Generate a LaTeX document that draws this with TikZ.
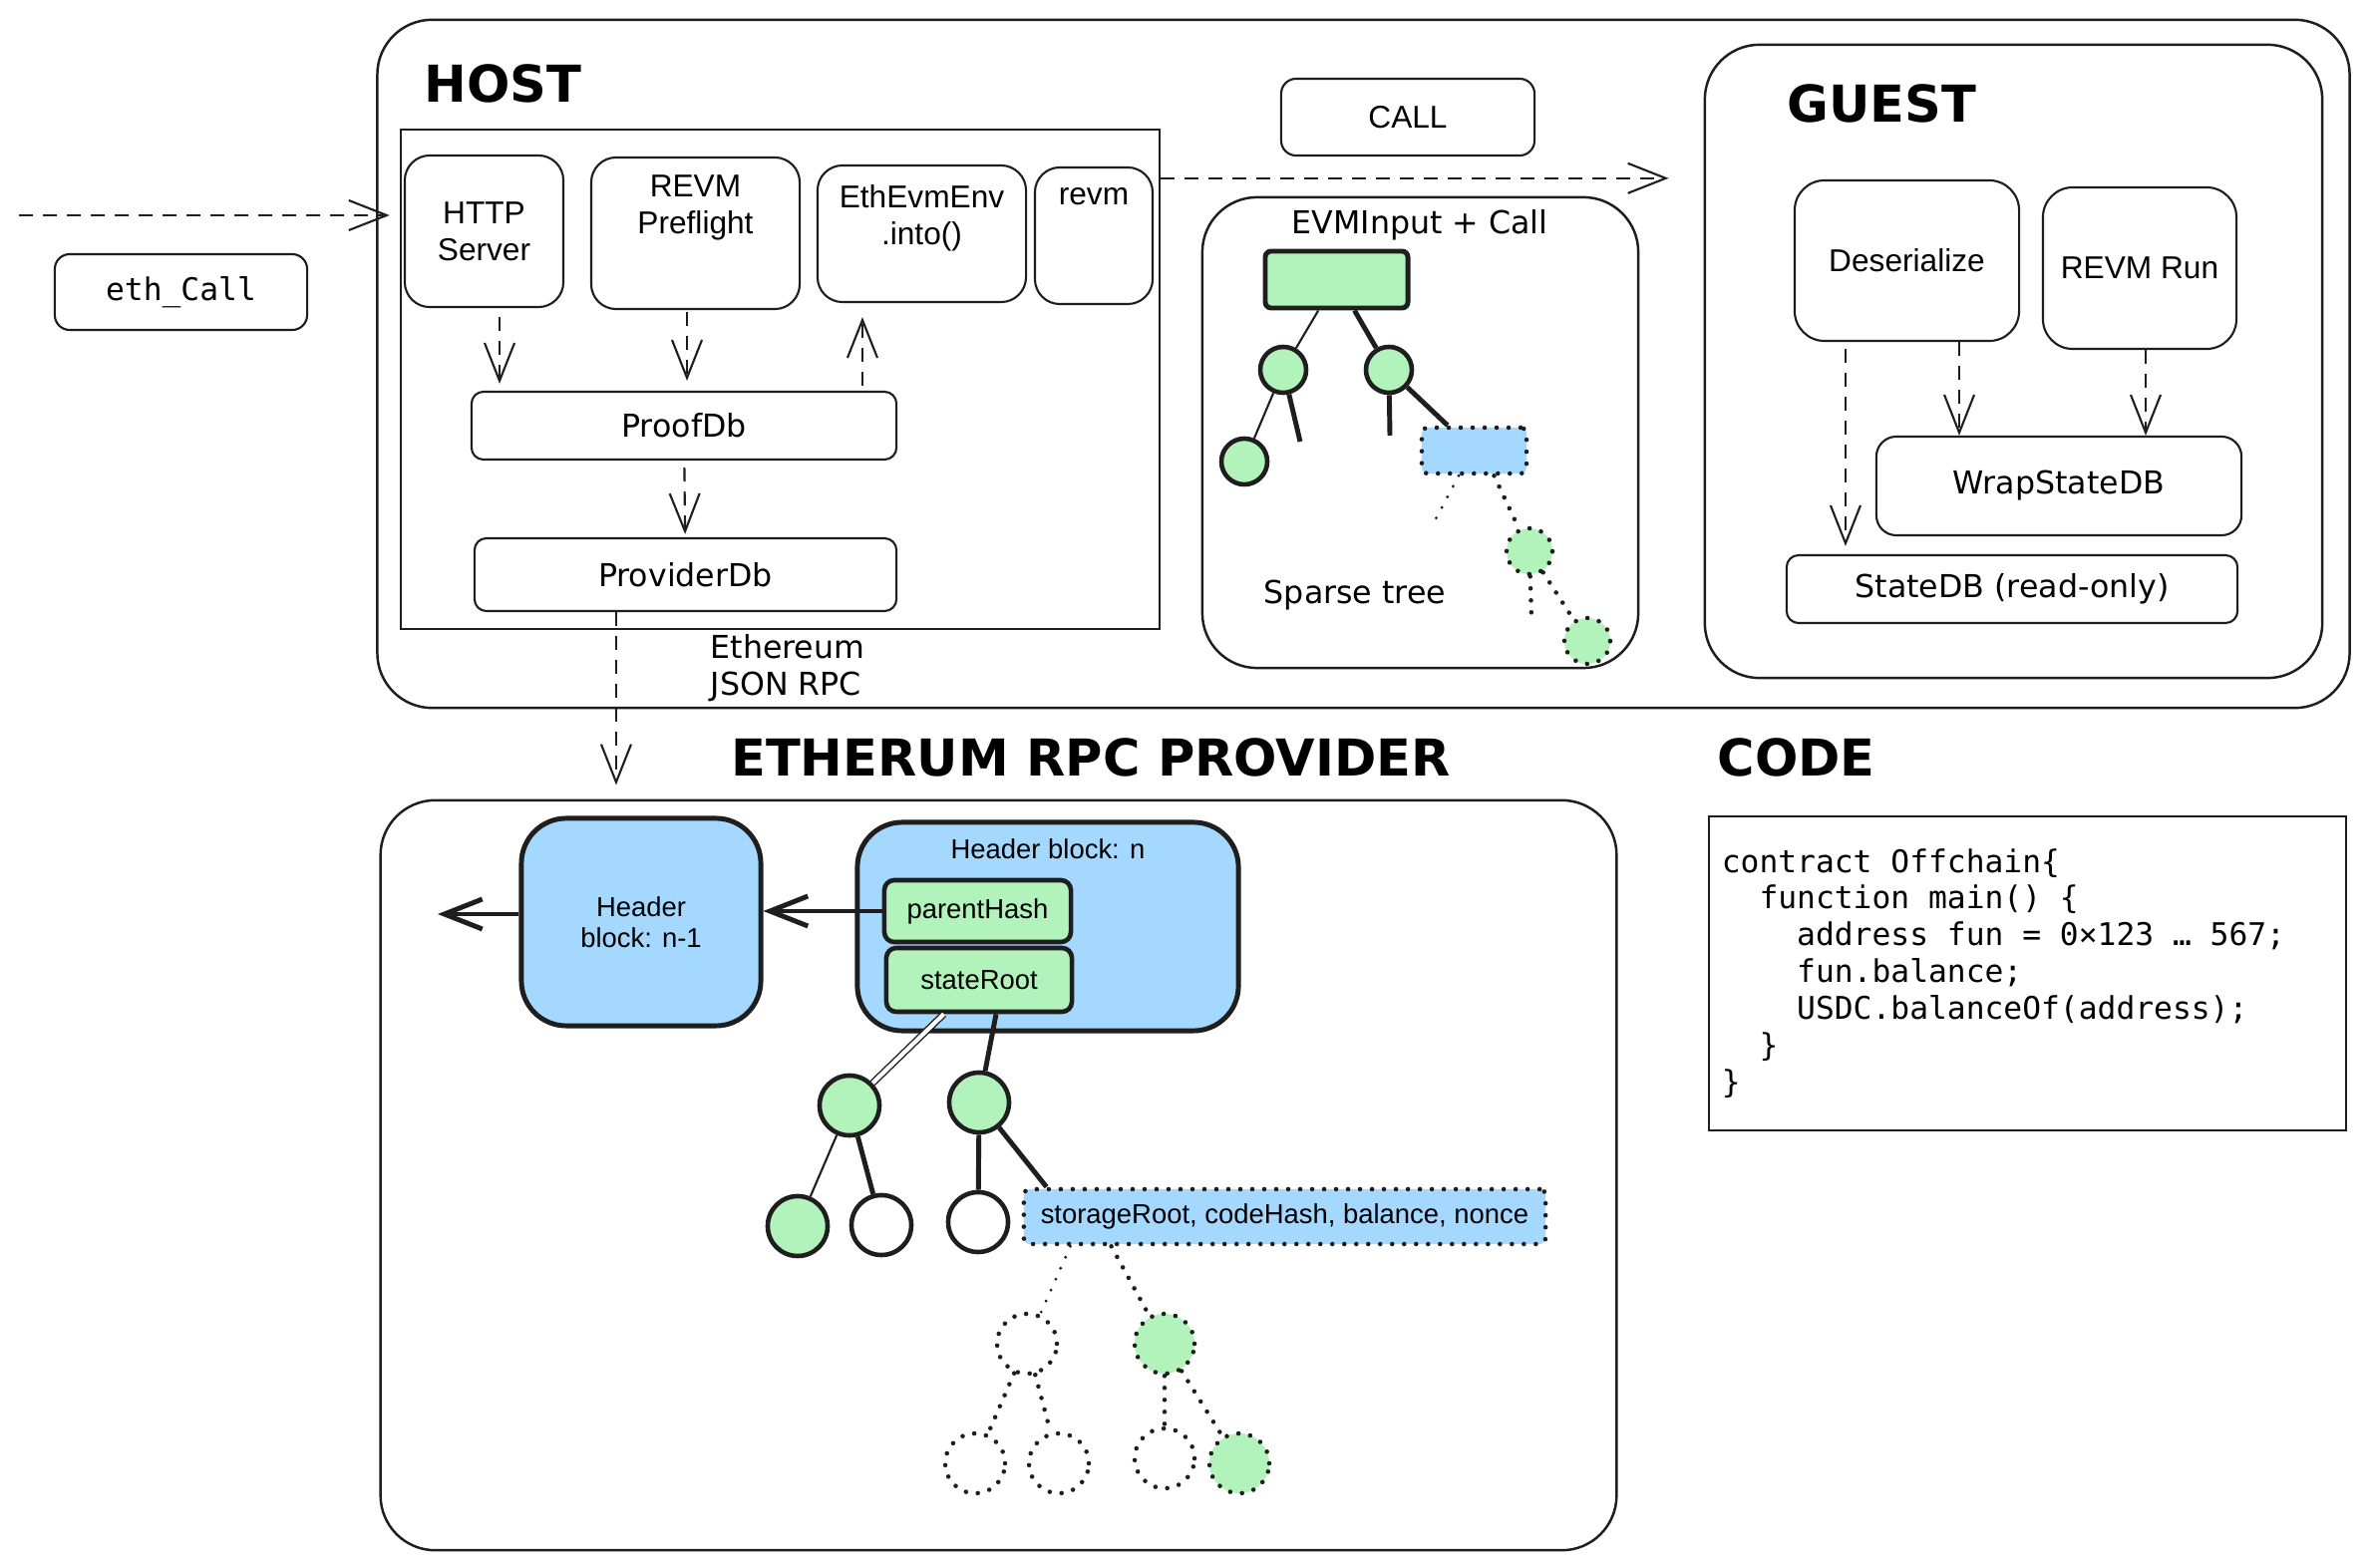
\documentclass[tikz,border=0pt]{standalone}
\usepackage{fontspec}
\setmainfont{Liberation Sans}
\newfontfamily\handfont{DejaVu Sans}
\newfontfamily\codefont{DejaVu Sans Mono}
\newcommand\codesetup{\codefont\fontsize{8.9}{10.5}\selectfont}
\newcommand\csp{\phantom{x}}
\usetikzlibrary{arrows.meta,positioning}
\definecolor{ink}{HTML}{1E1E1E}
\definecolor{leafgreen}{HTML}{B2F2BB}
\definecolor{skyblue}{HTML}{A5D8FF}

\begin{document}
\begin{tikzpicture}[x=0.01cm,y=-0.01cm,>={Straight Barb[length=0.38cm,width=0.3cm]},
  box/.style={draw=ink, line width=0.6pt, rounded corners=0.25cm, align=center, inner sep=0pt, font=\fontsize{9}{10.5}\selectfont},
  toplabel/.style={anchor=north, inner sep=0pt, align=center, font=\fontsize{9}{10.5}\selectfont},
  hand/.style={font=\handfont\fontsize{9}{10.5}\selectfont},
  title/.style={inner sep=0pt, font=\handfont\bfseries\fontsize{14.5}{16}\selectfont},
  frame/.style={draw=ink, line width=0.7pt, rounded corners=0.55cm},
  dasharrow/.style={draw=ink, line width=0.6pt, dash pattern=on 0.14cm off 0.1cm, ->},
  thinedge/.style={draw=ink, line width=0.6pt},
  thickedge/.style={draw=ink, line width=1.4pt},
  dotline/.style={draw=ink, line width=1.3pt, dash pattern=on 0pt off 0.12cm, line cap=round},
  block/.style={draw=ink, line width=1.4pt, fill=skyblue, rounded corners=0.45cm, align=center, inner sep=0pt, font=\fontsize{7.8}{8.8}\selectfont},
  field/.style={draw=ink, line width=1.3pt, fill=leafgreen, rounded corners=0.1cm, inner sep=0pt, font=\fontsize{7.8}{8.8}\selectfont},
  leaf/.style={circle, draw=ink, line width=1.3pt, fill=leafgreen, minimum size=0.46cm, inner sep=0pt},
  dotleaf/.style={circle, dotline, minimum size=0.46cm, inner sep=0pt},
  bigleaf/.style={circle, draw=ink, line width=1.3pt, minimum size=0.6cm, inner sep=0pt},
  dotnode/.style={circle, dotline, minimum size=0.6cm, inner sep=0pt},
  account/.style={dotline, fill=skyblue, rounded corners=0.06cm, inner sep=0pt},
  codetext/.style={font=\codesetup}]
  \useasboundingbox[fill=white] (0,0) rectangle (2378,1573);

  \node[frame, minimum width=19.77cm, minimum height=6.9cm] (host) at (1367.5,365) {};
  \node[draw=ink, line width=0.6pt, minimum width=7.61cm, minimum height=5.01cm] (hostin) at (782.5,380.5) {};
  \node[title, anchor=west] (hosttitle) at (425,84) {HOST};
  \node[box, minimum width=1.59cm, minimum height=1.52cm] (http) at (485.5,232) {HTTP\\Server};
  \node[box, minimum width=2.09cm, minimum height=1.52cm, label={[toplabel, yshift=-0.186cm]north:{REVM\\Preflight}}] (pre) at (697.5,234) {};
  \node[box, minimum width=2.09cm, minimum height=1.37cm, label={[toplabel, yshift=-0.196cm]north:{EthEvmEnv\\.into()}}] (env) at (924.5,234.5) {};
  \node[box, minimum width=1.18cm, minimum height=1.37cm, label={[toplabel, yshift=-0.21cm]north:revm}] (revm) at (1097,236.5) {};
  \node[box, codetext, rounded corners=0.15cm, minimum width=2.53cm, minimum height=0.76cm] (ethcall) at (181.5,293) {eth\_Call};
  \node[box, hand, rounded corners=0.12cm, minimum width=4.26cm, minimum height=0.68cm] (proof) at (686,427) {ProofDb};
  \node[box, hand, rounded corners=0.12cm, minimum width=4.23cm, minimum height=0.73cm] (prov) at (687.5,576.5) {ProviderDb};
  \node[hand, anchor=west, align=left, inner sep=0pt] (rpclabel) at (712,670.5) {Ethereum\\JSON RPC};

  \coordinate (start) at (19,216);
  \draw[dasharrow, shorten >=0.1cm] (start) -- (start -| hostin.west);
  \draw[dasharrow, shorten <=0.09cm, shorten >=0.07cm] ([xshift=0.155cm]http.south) -- ([xshift=0.155cm]http.south |- proof.north);
  \draw[dasharrow, shorten <=0.02cm, shorten >=0.1cm] ([xshift=-0.085cm]pre.south) -- ([xshift=-0.085cm]pre.south |- proof.north);
  \draw[dasharrow, shorten <=0.05cm, shorten >=0.14cm] ([xshift=-0.595cm]env.south |- proof.north) -- ([xshift=-0.595cm]env.south);
  \draw[dasharrow, shorten <=0.07cm, shorten >=0.03cm] (proof) -- (prov);

  \node[box, rounded corners=0.15cm, minimum width=2.54cm, minimum height=0.77cm] (call) at (1412,117.5) {CALL};
  \node[frame, minimum width=4.37cm, minimum height=4.72cm] (sparse) at (1424.5,434) {};
  \node[hand] (sparsetitle) at (1424,226) {EVMInput + Call};
  \node[hand] (sparselabel) at (1359,597) {Sparse tree};
  \node[draw=ink, line width=1.4pt, fill=leafgreen, rounded corners=0.06cm, minimum width=1.43cm, minimum height=0.57cm, inner sep=0pt] (root) at (1340.5,280.5) {};
  \node[leaf] (s1) at (1287,371) {};
  \node[leaf] (s2) at (1393,371) {};
  \node[leaf] (s3) at (1248,463) {};
  \coordinate (s1end) at (1304,443);
  \coordinate (s2end) at (1394,437);
  \node[account, minimum width=1.05cm, minimum height=0.46cm] (sacct) at (1478.5,452) {};
  \coordinate (saend) at (1436,528);
  \node[dotleaf, fill=leafgreen] (s4) at (1534,553) {};
  \coordinate (s4end) at (1536,620);
  \node[dotleaf, fill=leafgreen] (s5) at (1592,643) {};
  \draw[thinedge] (root) -- (s1);
  \draw[thickedge] (root) -- (s2);
  \draw[thinedge] (s1) -- (s3);
  \draw[thickedge] (s1) -- (s1end);
  \draw[thickedge] (s2) -- (s2end);
  \draw[thickedge] (s2) -- (sacct);
  \draw[dotline, line width=0.9pt] ([xshift=-0.155cm]sacct.south) -- (saend);
  \draw[dotline] ([xshift=0.2cm]sacct.south) -- (s4);
  \draw[dotline] (s4) -- (s4end);
  \draw[dotline] (s4) -- (s5);

  \node[frame, minimum width=6.19cm, minimum height=6.35cm] (guest) at (2019.5,362.5) {};
  \node[title, anchor=west] (guesttitle) at (1792,104) {GUEST};
  \node[box, rounded corners=0.3cm, minimum width=2.25cm, minimum height=1.61cm] (des) at (1912.5,261.5) {Deserialize};
  \node[box, rounded corners=0.3cm, minimum width=1.94cm, minimum height=1.62cm] (run) at (2146,269) {REVM Run};
  \node[box, hand, rounded corners=0.2cm, minimum width=3.66cm, minimum height=0.99cm] (wrap) at (2065,487.5) {WrapStateDB};
  \node[box, hand, rounded corners=0.12cm, minimum width=4.52cm, minimum height=0.68cm] (state) at (2018,591) {StateDB (read-only)};
  \draw[dasharrow, shorten <=0.07cm, shorten >=0.08cm] ([xshift=-0.615cm]des.south) -- ([xshift=-0.615cm]des.south |- state.north);
  \draw[dasharrow] ([xshift=0.525cm]des.south) -- ([xshift=0.525cm]des.south |- wrap.north);
  \draw[dasharrow] ([xshift=0.06cm]run.south) -- ([xshift=0.06cm]run.south |- wrap.north);
  \draw[dasharrow, shorten >=0.35cm] ([yshift=-0.5cm]hostin.north east) -- ([yshift=-0.5cm]hostin.north east -| guest.west);

  \node[title] (provtitle) at (1094,760) {ETHERUM RPC PROVIDER};
  \node[frame, minimum width=12.39cm, minimum height=7.52cm] (provider) at (1001.5,1179) {};
  \draw[dasharrow, shorten >=0.14cm] ([xshift=-0.695cm]prov.south) -- ([xshift=-0.695cm]prov.south |- provider.north);
  \node[block, minimum width=2.40cm, minimum height=2.08cm] (hn1) at (643,925) {Header\\block: n-1};
  \node[block, minimum width=3.82cm, minimum height=2.09cm, label={[toplabel, font=\fontsize{7.8}{8.8}\selectfont, yshift=-0.18cm]north:Header block: n}] (hn) at (1051,929.5) {};
  \node[field, minimum width=1.87cm, minimum height=0.62cm] (ph) at (980.5,914) {parentHash};
  \node[field, minimum width=1.86cm, minimum height=0.64cm] (sr) at (982,983) {stateRoot};
  \coordinate (prev) at (439,917);
  \draw[->, thickedge] (hn1.west |- prev) -- (prev);
  \draw[->, thickedge] (ph.west) -- (ph.west -| hn1.east);

  \node[bigleaf, fill=leafgreen] (p1) at (852,1109) {};
  \node[bigleaf, fill=leafgreen] (p2) at (982,1106) {};
  \node[bigleaf, fill=leafgreen] (p3) at (800,1230) {};
  \node[bigleaf, fill=white] (p4) at (884,1229) {};
  \node[bigleaf, fill=white] (p5) at (981,1226) {};
  \node[account, minimum width=5.23cm, minimum height=0.55cm, font=\fontsize{7.8}{8.8}\selectfont] (acct) at (1288.5,1220.5) {storageRoot, codeHash, balance, nonce};
  \node[dotnode] (d1) at (1030,1348) {};
  \node[dotnode, fill=leafgreen] (g1) at (1168,1348) {};
  \node[dotnode] (d2) at (978,1468) {};
  \node[dotnode] (d3) at (1062,1468) {};
  \node[dotnode] (d4) at (1168,1463) {};
  \node[dotnode, fill=leafgreen] (g2) at (1243,1468) {};
  \draw[draw=ink, line width=0.4pt, double=white, double distance=1.2pt] (sr) -- (p1);
  \draw[thickedge] ([xshift=0.17cm]sr.south) -- (p2);
  \draw[thinedge] (p1) -- (p3);
  \draw[thickedge] (p1) -- (p4);
  \draw[thickedge] (p2) -- (p5);
  \draw[thickedge] (p2) -- ([xshift=0.25cm]acct.north west);
  \draw[dotline, line width=0.9pt] ([xshift=0.49cm]acct.south west) -- (d1);
  \draw[dotline] ([xshift=0.9cm]acct.south west) -- (g1);
  \draw[dotline] (d1) -- (d2);
  \draw[dotline] (d1) -- (d3);
  \draw[dotline] (g1) -- (d4);
  \draw[dotline] (g1) -- (g2);

  \node[title, anchor=west] (codetitle) at (1722,760) {CODE};
  \node[draw=ink, line width=0.7pt, codetext, minimum width=6.39cm, minimum height=3.15cm, text width=6.13cm, inner sep=0.13cm, align=left] (code) at (2033.5,976.5) {contract\csp Offchain\{\\
\phantom{xx}function\csp main()\csp\{\\
\phantom{xxxx}address\csp fun\csp =\csp 0×123\csp …\csp 567;\\
\phantom{xxxx}fun.balance;\\
\phantom{xxxx}USDC.balanceOf(address);\\
\phantom{xx}\}\\
\}};
\end{tikzpicture}
\end{document}
